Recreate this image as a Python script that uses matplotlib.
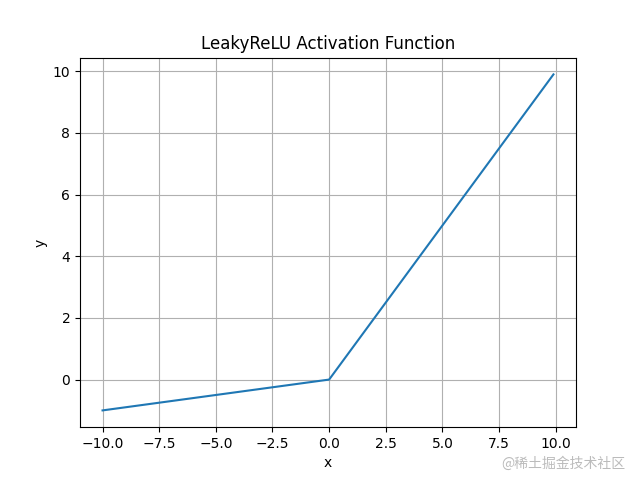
import matplotlib
matplotlib.use("Agg")
import matplotlib.pyplot as plt

# Breakpoints of the LeakyReLU curve
x_vals = [-10.0, 0.0, 9.9]
y_vals = [-1.0, 0.0, 9.9]

fig, ax = plt.subplots(figsize=(6.4, 4.8), dpi=100)
ax.plot(x_vals, y_vals)
ax.set_title('LeakyReLU Activation Function')
ax.set_xlabel('x')
ax.set_ylabel('y')
ax.grid(True)

fig.text(0.977, 0.035, '@稀土掘金技术社区', ha='right', va='center',
         fontsize=10, color='#bbbbbb',
         family=['Noto Sans CJK SC', 'DejaVu Sans'])

fig.savefig('out.png', dpi=100)
